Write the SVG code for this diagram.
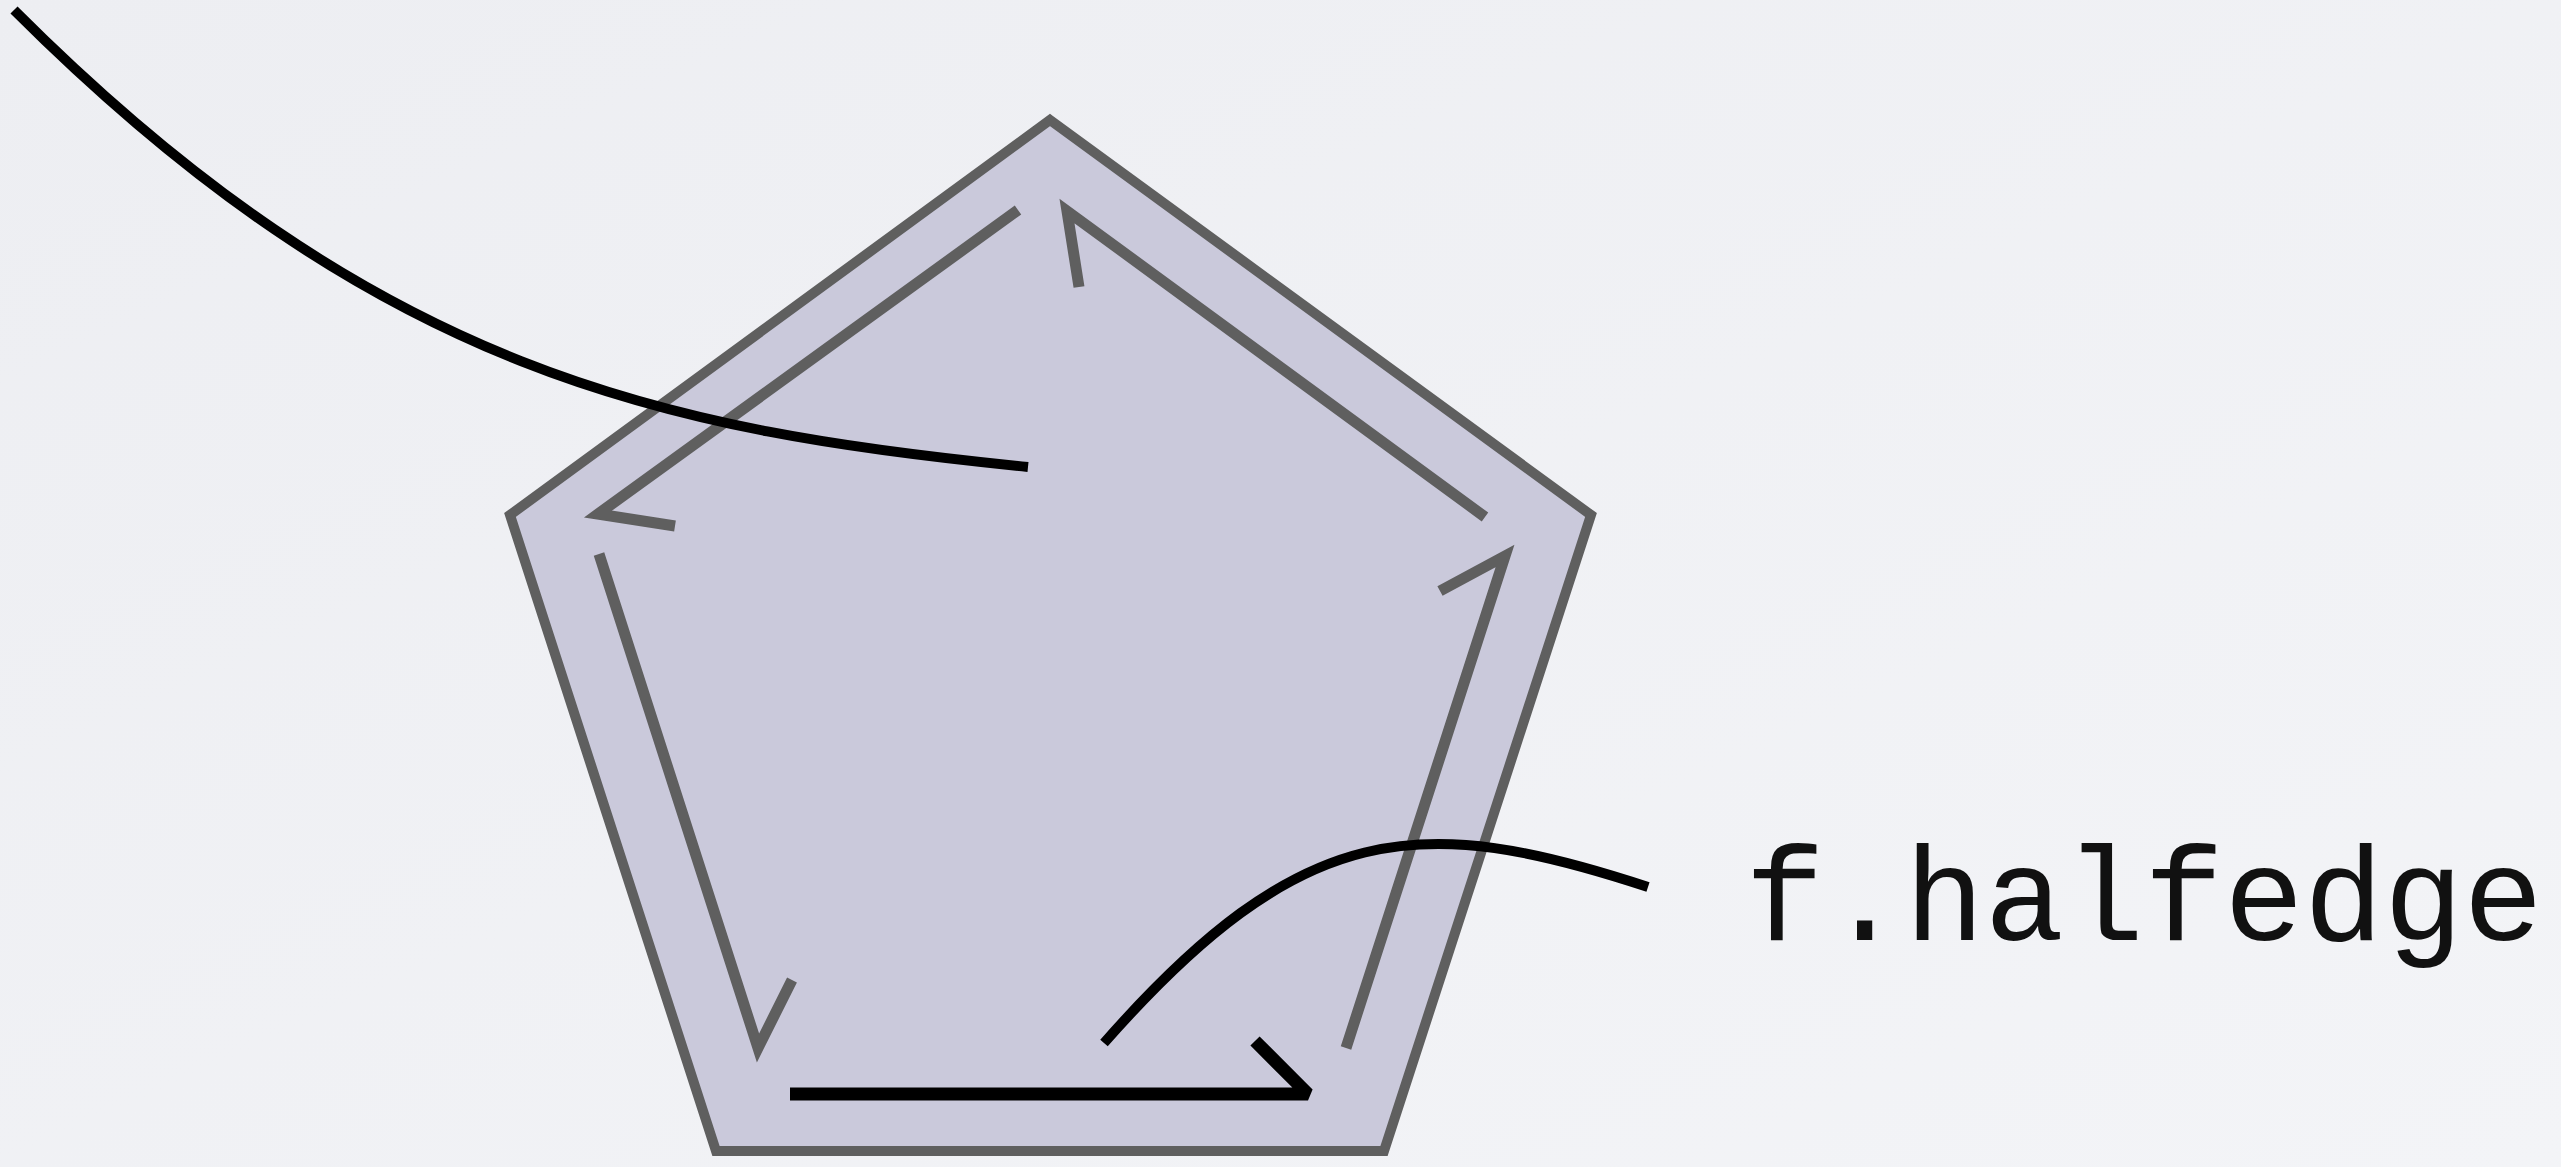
<svg xmlns="http://www.w3.org/2000/svg" width="2561" height="1167" viewBox="0 0 2561 1167">
  <style>
    .face { fill: #cac9db; stroke: #5f5f5f; stroke-width: 10; stroke-linejoin: miter; }
    .he { fill: none; stroke: #5f5f5f; stroke-width: 11; stroke-linejoin: miter; stroke-miterlimit: 4; }
    .he-sel { fill: none; stroke: #000; stroke-width: 13; stroke-linejoin: miter; stroke-miterlimit: 2; }
    .conn { fill: none; stroke: #000; stroke-width: 10; }
    .label { font-family: "Courier New", "Nimbus Mono PS", "FreeMono", "Liberation Mono", monospace; font-size: 133px; fill: #111; }
  </style>
  <defs>
    <linearGradient id="bg" x1="0" y1="0" x2="1" y2="1">
      <stop offset="0" stop-color="#edeef2"/>
      <stop offset="1" stop-color="#f3f4f7"/>
    </linearGradient>
  </defs>
  <rect x="0" y="0" width="2561" height="1167" fill="url(#bg)"/>
  <g id="face">
    <polygon class="face" points="1050,120 1591,515 1384,1151 716,1151 510,515"/>
  </g>
  <g id="halfedges">
    <polyline id="he-top-left" class="he" points="1018,210 598,514 675,526"/>
    <polyline id="he-top-right" class="he" points="1485,517 1067,211 1079,287"/>
    <polyline id="he-right" class="he" points="1346,1048 1505,556 1440,591"/>
    <polyline id="he-bottom" class="he-sel" points="790,1094 1308,1094 1255,1041"/>
    <polyline id="he-left" class="he" points="599,554 758,1048 792,980"/>
  </g>
  <g id="connectors">
    <path class="conn" d="M14,10 C377,373 665,431 1028,467"/>
    <path class="conn" d="M1104,1043 C1302,818 1420,812 1648,887"/>
  </g>
  <g id="label-halfedge">
    <text class="label" x="1745" y="940">f.halfedge</text>
  </g>
</svg>
